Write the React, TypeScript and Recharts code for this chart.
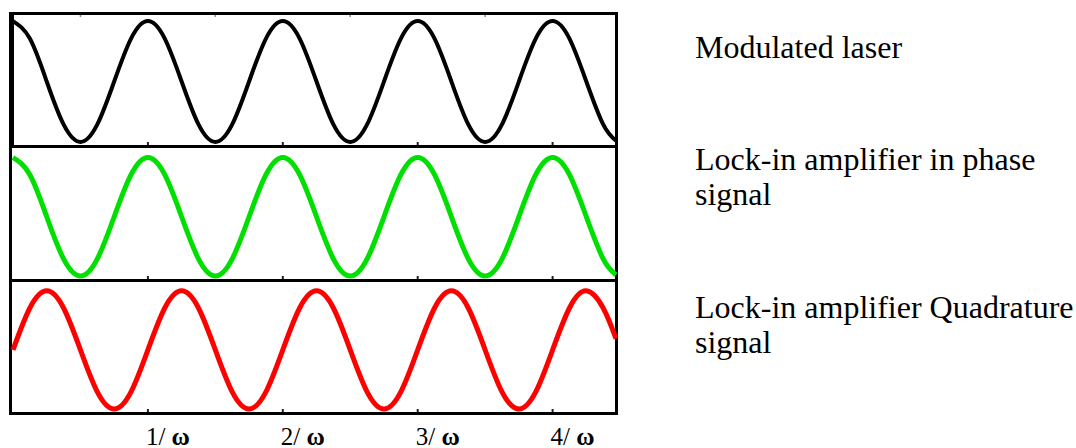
import { LineChart, Line, XAxis, YAxis } from 'recharts';

// time in units of 1/ω
const times = [
  0, 0.125, 0.25, 0.375, 0.5, 0.625, 0.75, 0.875,
  1, 1.125, 1.25, 1.375, 1.5, 1.625, 1.75, 1.875,
  2, 2.125, 2.25, 2.375, 2.5, 2.625, 2.75, 2.875,
  3, 3.125, 3.25, 3.375, 3.5, 3.625, 3.75, 3.875,
  4, 4.125, 4.25, 4.375, 4.47,
];

const laser = [
  1, 0.71, 0, -0.71, -1, -0.71, 0, 0.71,
  1, 0.71, 0, -0.71, -1, -0.71, 0, 0.71,
  1, 0.71, 0, -0.71, -1, -0.71, 0, 0.71,
  1, 0.71, 0, -0.71, -1, -0.71, 0, 0.71,
  1, 0.71, 0, -0.71, -0.98,
];

const inPhase = [
  1, 0.71, 0, -0.71, -1, -0.71, 0, 0.71,
  1, 0.71, 0, -0.71, -1, -0.71, 0, 0.71,
  1, 0.71, 0, -0.71, -1, -0.71, 0, 0.71,
  1, 0.71, 0, -0.71, -1, -0.71, 0, 0.71,
  1, 0.71, 0, -0.71, -0.98,
];

const quadrature = [
  0, 0.71, 1, 0.71, 0, -0.71, -1, -0.71,
  0, 0.71, 1, 0.71, 0, -0.71, -1, -0.71,
  0, 0.71, 1, 0.71, 0, -0.71, -1, -0.71,
  0, 0.71, 1, 0.71, 0, -0.71, -1, -0.71,
  0, 0.71, 1, 0.71, 0.19,
];

const tickValues = [1, 2, 3, 4];
const tickLabels = ['1/ ω', '2/ ω', '3/ ω', '4/ ω'];

const panelLabels = [
  ['Modulated laser'],
  ['Lock-in amplifier in phase', 'signal'],
  ['Lock-in amplifier Quadrature', 'signal'],
];

const data = times.map((t, i) => ({
  t,
  laser: laser[i],
  inPhase: inPhase[i],
  quadrature: quadrature[i],
}));

const SERIF = "'Liberation Serif', 'Times New Roman', serif";
const X_DOMAIN: [number, number] = [0, 4.47];

function BottomTick(props: any) {
  const { x, y, payload } = props;
  const label = tickLabels[tickValues.indexOf(payload.value)] ?? '';
  const [num, sym] = label.split(' ');
  return (
    <text x={x - 2} y={y} dy={25} style={{ fontFamily: SERIF, fontSize: 25 }} fill="#000" textAnchor="start">
      <tspan>{num} </tspan>
      <tspan fontWeight="bold">{sym}</tspan>
    </text>
  );
}

type PanelProps = {
  top: number;
  height: number;
  dataKey: string;
  color: string;
  width: number;
  yDomain: [number, number];
  topTicks?: boolean;
  labels?: boolean;
};

function Panel({ top, height, dataKey, color, width, yDomain, topTicks, labels }: PanelProps) {
  const extra = labels ? 36 : 0;
  return (
    <div style={{ position: 'absolute', left: 0, top }}>
      <LineChart
        width={640}
        height={height + extra}
        data={data}
        margin={{ top: 0, right: 24, bottom: 0, left: 13 }}
      >
        <XAxis
          dataKey="t"
          type="number"
          domain={X_DOMAIN}
          ticks={tickValues}
          mirror
          axisLine={false}
          tickSize={3}
          tickLine={{ stroke: '#222', strokeWidth: 2 }}
          tick={() => <g />}
        />
        {topTicks && (
          <XAxis
            xAxisId="top"
            dataKey="t"
            orientation="top"
            type="number"
            domain={X_DOMAIN}
            ticks={[0.5, 1.5, 2.5, 3.5]}
            mirror
            axisLine={false}
            tickSize={2}
            tickLine={{ stroke: '#888', strokeWidth: 1.5 }}
            tick={() => <g />}
          />
        )}
        {labels && (
          <XAxis
            xAxisId="labels"
            dataKey="t"
            type="number"
            domain={X_DOMAIN}
            ticks={tickValues}
            height={extra}
            axisLine={false}
            tickLine={false}
            tick={<BottomTick />}
          />
        )}
        <YAxis hide domain={yDomain} />
        <Line
          type="natural"
          dataKey={dataKey}
          stroke={color}
          strokeWidth={width}
          dot={false}
          isAnimationActive={false}
        />
      </LineChart>
    </div>
  );
}

const box = (top: number, height: number, leftWidth = 3) => ({
  position: 'absolute' as const,
  left: 9,
  top,
  width: 609,
  height,
  boxSizing: 'border-box' as const,
  border: '3px solid #000',
  borderLeftWidth: leftWidth,
  pointerEvents: 'none' as const,
});

const textStyle = { fontFamily: SERIF, fontSize: 32 };

export default function App() {
  return (
    <div
      style={{
        position: 'absolute',
        left: 0,
        top: 0,
        width: 1076,
        height: 448,
        background: '#fff',
        overflow: 'hidden',
      }}
    >
      <div style={box(12, 136, 5)} />
      <div style={box(145, 137)} />
      <div style={box(279, 136)} />

      <Panel top={15} height={130} dataKey="laser" color="#000" width={4} yDomain={[-1.05, 1.1]} topTicks />
      <Panel top={148} height={131} dataKey="inPhase" color="#00e000" width={5} yDomain={[-1.05, 1.16]} />
      <Panel top={282} height={130} dataKey="quadrature" color="#ff0000" width={5} yDomain={[-1.05, 1.15]} labels />

      <svg
        width={1076}
        height={448}
        style={{ position: 'absolute', left: 0, top: 0, pointerEvents: 'none' }}
      >
        <text x={695} y={58} style={textStyle} fill="#000">
          {panelLabels[0][0]}
        </text>
        <text x={695} y={170} style={textStyle} fill="#000">
          <tspan x={695}>{panelLabels[1][0]}</tspan>
          <tspan x={695} dy={35}>{panelLabels[1][1]}</tspan>
        </text>
        <text x={695} y={318} style={textStyle} fill="#000">
          <tspan x={695}>{panelLabels[2][0]}</tspan>
          <tspan x={695} dy={35}>{panelLabels[2][1]}</tspan>
        </text>
      </svg>
    </div>
  );
}
